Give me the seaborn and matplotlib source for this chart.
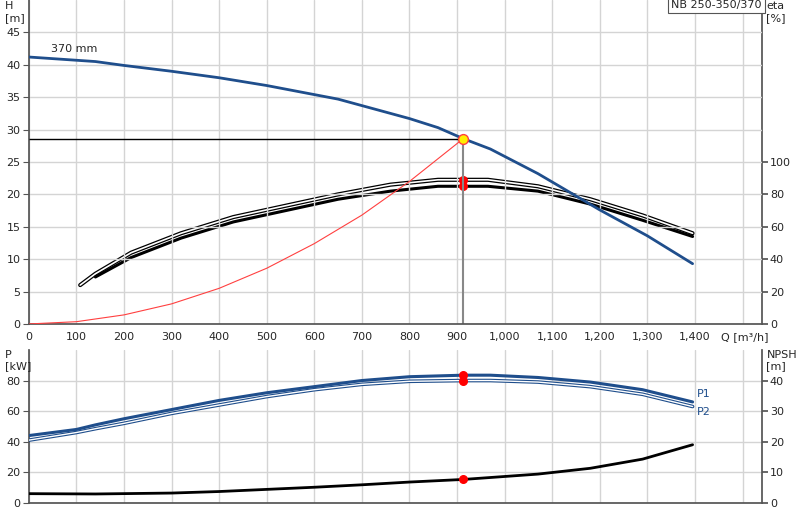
import numpy as np
import pandas as pd
import seaborn as sns
import matplotlib
matplotlib.use("Agg")
import matplotlib.pyplot as plt
from matplotlib.ticker import FuncFormatter

sns.set_theme(style="white")
plt.rcParams['font.family'] = ['DejaVu Sans']
plt.rcParams['font.size'] = 8

# ---- data ----
q_h = [0, 100, 140, 200, 300, 400, 500, 600, 650, 700, 800, 860, 913, 970, 1070, 1200, 1300, 1395]
h_vals = [41.2, 40.7, 40.5, 39.9, 39.0, 38.0, 36.8, 35.4, 34.7, 33.7, 31.7, 30.3, 28.6, 27.0, 23.2, 17.6, 13.6, 9.3]

q_sys = [0, 100, 200, 300, 400, 500, 600, 700, 800, 913]
h_sys = [0, 0.35, 1.4, 3.1, 5.5, 8.6, 12.4, 16.8, 22.0, 28.6]

q_eta = [140, 215, 320, 430, 540, 650, 760, 860, 913, 965, 1070, 1180, 1290, 1395]
eta_low = [29, 41, 53, 63, 70, 77, 82, 85, 85, 85, 82, 74, 64, 54]
q_eta2 = [108, 140, 215, 320, 430, 540, 650, 760, 860, 913, 965, 1070, 1180, 1290, 1395]
eta_up = [24, 31, 44, 56, 66, 73, 80, 86, 89, 89, 89, 85, 77, 67, 56]

q_p = [0, 100, 140, 200, 300, 400, 500, 600, 700, 800, 913, 970, 1070, 1180, 1290, 1395]
p1 = [44, 48, 51, 55, 61, 67, 72, 76, 80, 82.5, 83.5, 83.5, 82, 79, 74, 66]
p2 = [41, 46, 48.5, 52, 58.5, 64, 69.5, 74, 77.5, 79.5, 80, 80, 79, 76, 71, 63]

q_npsh = [0, 140, 300, 400, 500, 600, 700, 800, 913, 1070, 1180, 1290, 1395]
npsh = [3.0, 2.9, 3.2, 3.7, 4.4, 5.1, 5.9, 6.8, 7.65, 9.4, 11.3, 14.3, 19.0]

q_dp = 913
h_dp = 28.6
eta_dp = [89, 85]
p_dp = [83.5, 80]
npsh_dp = 7.65

blue = "#1f4e8c"
gridc = "#d4d4d4"

fig = plt.figure(figsize=(8, 5.2), dpi=100)
ax = fig.add_axes([0.036, 0.377, 0.916, 0.623])
axr = ax.twinx()
bx = fig.add_axes([0.036, 0.033, 0.916, 0.294])
bxr = bx.twinx()

def style(a):
    a.set_xlim(0, 1540)
    a.set_xticks(range(0, 1600, 100))
    a.grid(True, color=gridc, lw=1)
    a.set_axisbelow(True)
    for s in ["top", "right"]:
        a.spines[s].set_visible(False)
    for s in ["left", "bottom"]:
        a.spines[s].set_color("#555555")
    a.tick_params(axis="both", length=4, width=0.8, color="#555555", labelsize=8, pad=2, direction="out")
    a.set_xlabel(""); a.set_ylabel("")

style(ax); style(bx)
ax.set_ylim(0, 50); ax.set_yticks(range(0, 50, 5))
ax.xaxis.set_major_formatter(FuncFormatter(lambda v, p: f"{int(v):,}" if v <= 1400 else ""))
axr.set_ylim(0, 200); axr.set_yticks(range(0, 120, 20))
bx.set_ylim(0, 100); bx.set_yticks(range(0, 100, 20))
bx.set_xticklabels([])
bxr.set_ylim(0, 50); bxr.set_yticks(range(0, 50, 10))
for a in (axr, bxr):
    a.grid(False)
    for s in ["top", "left", "bottom"]:
        a.spines[s].set_visible(False)
    a.spines["right"].set_color("#555555")
    a.tick_params(axis="y", length=4, labelsize=8, pad=2, color="#555555")
    a.set_ylabel("")

# top: pump curve
sns.lineplot(x=q_h, y=h_vals, ax=ax, color=blue, lw=2, sort=False, zorder=4)
sns.lineplot(x=q_sys, y=h_sys, ax=ax, color="#ff4040", lw=0.8, sort=False, zorder=3)
ax.hlines(h_dp, 0, q_dp, color="black", lw=1, zorder=3)
ax.vlines(q_dp, 0, h_dp, color="#888888", lw=1.5, zorder=2)
# eta
sns.lineplot(x=q_eta2, y=eta_up, ax=axr, color="black", lw=3, sort=False, zorder=3)
sns.lineplot(x=q_eta2, y=eta_up, ax=axr, color="white", lw=1.2, sort=False, zorder=3)
sns.lineplot(x=q_eta, y=eta_low, ax=axr, color="black", lw=2.2, sort=False, zorder=3)
axr.scatter([q_dp, q_dp], eta_dp, color="red", s=30, zorder=5)
axr.set_ylim(0, 200)
ax.set_zorder(axr.get_zorder() + 1); ax.patch.set_visible(False)
ax.scatter([q_dp], [h_dp], s=50, color="#ffee00", edgecolor="#ff4040", lw=1, zorder=6)

ax.text(47, 41.6, "370 mm", fontsize=8, ha="left", va="bottom")
fig.text(0.006, 0.998, "H\n[m]", ha="left", va="top", fontsize=8)
fig.text(0.958, 0.998, "eta\n[%]", ha="left", va="top", fontsize=8)
ax.text(1.0, 1.0, "NB 250-350/370", transform=ax.transAxes, ha="right", va="top", fontsize=8,
        bbox=dict(boxstyle="square,pad=0.3", fc="white", ec="#555555", lw=0.8))
ax.text(1455, -1.2, "Q [m³/h]", ha="left", va="top", fontsize=8)

# bottom
sns.lineplot(x=q_p, y=p2, ax=bx, color=blue, lw=2.6, sort=False, zorder=3)
sns.lineplot(x=q_p, y=p2, ax=bx, color="white", lw=1.0, sort=False, zorder=3)
sns.lineplot(x=q_p, y=p1, ax=bx, color=blue, lw=2.2, sort=False, zorder=3)
bx.scatter([q_dp, q_dp], p_dp, color="red", s=30, zorder=5)
bx.text(1405, 68, "P1", color=blue, fontsize=8, va="bottom")
bx.text(1405, 63, "P2", color=blue, fontsize=8, va="top")
sns.lineplot(x=q_npsh, y=npsh, ax=bxr, color="black", lw=2, sort=False, zorder=3)
bxr.scatter([q_dp], [npsh_dp], color="red", s=30, zorder=5)
bxr.set_ylim(0, 50)
fig.text(0.006, 0.327, "P\n[kW]", ha="left", va="top", fontsize=8)
fig.text(0.958, 0.327, "NPSH\n[m]", ha="left", va="top", fontsize=8)

fig.savefig("out.png", dpi=100)
